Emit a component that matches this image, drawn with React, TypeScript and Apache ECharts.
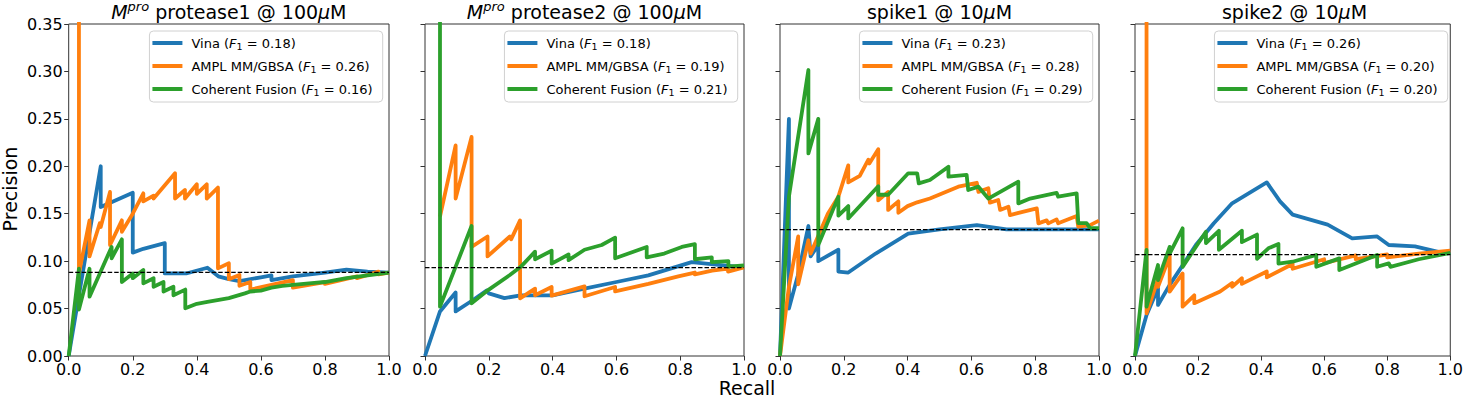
import React, { useEffect, useRef } from 'react';
import * as echarts from 'echarts';

type Pt = [number, number];

// ---------- data ----------
const panelTitles = [
  '{it|M}{sup|pro} protease1 @ 100{it|μ}M',
  '{it|M}{sup|pro} protease2 @ 100{it|μ}M',
  'spike1 @ 10{it|μ}M',
  'spike2 @ 10{it|μ}M',
];
const methods = ['Vina', 'AMPL MM/GBSA', 'Coherent Fusion'];
const methodColors = ['#1f77b4', '#ff7f0e', '#2ca02c'];
const f1Vina = ['0.18', '0.18', '0.23', '0.26'];
const f1Ampl = ['0.26', '0.19', '0.28', '0.20'];
const f1Coherent = ['0.16', '0.21', '0.29', '0.20'];
const baselinePrecision = [0.0882, 0.0931, 0.1332, 0.1068];

const xTicks = [0, 0.2, 0.4, 0.6, 0.8, 1.0];
const yTicks = [0, 0.05, 0.1, 0.15, 0.2, 0.25, 0.3, 0.35];

// panel 1: Mpro protease1 @ 100uM  [recall, precision]
const vina1: Pt[] = [[0, 0], [0.1, 0.2], [0.1, 0.157], [0.2, 0.172], [0.2, 0.109], [0.233, 0.113], [0.3, 0.119], [0.3, 0.087], [0.367, 0.087], [0.433, 0.093], [0.467, 0.084], [0.5, 0.081], [0.533, 0.079], [0.6, 0.083], [0.633, 0.085], [0.633, 0.08], [0.7, 0.084], [0.8, 0.088], [0.867, 0.091], [0.933, 0.089], [1.0, 0.088]];
const ampl1: Pt[] = [[0.032, 1.0], [0.032, 0.087], [0.065, 0.143], [0.065, 0.105], [0.097, 0.14], [0.1, 0.136], [0.129, 0.173], [0.129, 0.117], [0.166, 0.143], [0.166, 0.131], [0.2, 0.15], [0.233, 0.1715], [0.233, 0.163], [0.265, 0.169], [0.265, 0.166], [0.332, 0.1926], [0.332, 0.166], [0.363, 0.175], [0.363, 0.166], [0.4, 0.181], [0.4, 0.171], [0.431, 0.181], [0.431, 0.166], [0.466, 0.1775], [0.466, 0.0924], [0.5, 0.0977], [0.5, 0.081], [0.533, 0.0855], [0.533, 0.074], [0.567, 0.078], [0.567, 0.07], [0.7, 0.08], [0.7, 0.072], [0.8, 0.078], [0.8, 0.076], [0.9, 0.084], [0.9, 0.082], [0.967, 0.089], [0.967, 0.086], [1.0, 0.088]];
const coherent1: Pt[] = [[0, 0], [0.032, 0.092], [0.032, 0.049], [0.065, 0.092], [0.065, 0.0625], [0.134, 0.115], [0.134, 0.103], [0.166, 0.123], [0.166, 0.078], [0.2, 0.087], [0.2, 0.082], [0.233, 0.0907], [0.233, 0.0766], [0.265, 0.082], [0.265, 0.073], [0.296, 0.078], [0.296, 0.068], [0.327, 0.073], [0.327, 0.064], [0.364, 0.07], [0.364, 0.0503], [0.4, 0.055], [0.433, 0.057], [0.5, 0.061], [0.55, 0.066], [0.567, 0.068], [0.6, 0.069], [0.633, 0.072], [0.667, 0.074], [0.7, 0.075], [0.767, 0.077], [0.8, 0.078], [0.867, 0.082], [0.933, 0.085], [1.0, 0.088]];

// panel 2: Mpro protease2 @ 100uM
const vina2: Pt[] = [[0, 0], [0.047, 0.047], [0.096, 0.067], [0.096, 0.047], [0.146, 0.058], [0.193, 0.069], [0.2, 0.066], [0.249, 0.061], [0.3, 0.064], [0.4, 0.064], [0.5, 0.071], [0.6, 0.078], [0.7, 0.085], [0.836, 0.099], [0.92, 0.096], [1.0, 0.0934]];
const ampl2: Pt[] = [[0.047, 0.147], [0.096, 0.222], [0.096, 0.166], [0.146, 0.231], [0.146, 0.115], [0.196, 0.126], [0.196, 0.105], [0.266, 0.126], [0.27, 0.123], [0.298, 0.143], [0.298, 0.0608], [0.345, 0.071], [0.345, 0.064], [0.397, 0.0727], [0.397, 0.0636], [0.5, 0.0734], [0.5, 0.063], [0.596, 0.0727], [0.596, 0.0681], [0.7, 0.076], [0.794, 0.084], [0.846, 0.088], [0.846, 0.086], [0.9, 0.09], [0.95, 0.092], [0.95, 0.089], [1.0, 0.0934]];
const coherent2: Pt[] = [[0.047, 1.0], [0.047, 0.052], [0.146, 0.137], [0.146, 0.0555], [0.2, 0.07], [0.266, 0.0854], [0.3, 0.094], [0.345, 0.11], [0.345, 0.102], [0.397, 0.111], [0.397, 0.0974], [0.45, 0.107], [0.45, 0.101], [0.5, 0.112], [0.554, 0.117], [0.596, 0.1248], [0.596, 0.103], [0.695, 0.115], [0.695, 0.104], [0.75, 0.108], [0.805, 0.115], [0.846, 0.118], [0.846, 0.102], [0.899, 0.104], [0.899, 0.099], [0.951, 0.1], [0.951, 0.0942], [1.0, 0.0955]];

// panel 3: spike1 @ 10uM
const vina3: Pt[] = [[0, 0], [0.028, 0.25], [0.028, 0.05], [0.056, 0.085], [0.089, 0.137], [0.096, 0.105], [0.12, 0.117], [0.12, 0.1], [0.183, 0.112], [0.183, 0.089], [0.214, 0.088], [0.3, 0.108], [0.402, 0.129], [0.5, 0.1334], [0.617, 0.138], [0.71, 0.1334], [1.0, 0.1334]];
const ampl3: Pt[] = [[0, 0], [0.028, 0.073], [0.057, 0.126], [0.057, 0.0756], [0.089, 0.122], [0.096, 0.108], [0.15, 0.15], [0.183, 0.168], [0.214, 0.201], [0.214, 0.183], [0.25, 0.19], [0.277, 0.207], [0.28, 0.203], [0.308, 0.218], [0.308, 0.164], [0.339, 0.173], [0.339, 0.154], [0.371, 0.163], [0.371, 0.151], [0.4, 0.158], [0.43, 0.162], [0.47, 0.166], [0.559, 0.1785], [0.617, 0.1826], [0.622, 0.173], [0.653, 0.1768], [0.658, 0.1616], [0.684, 0.1645], [0.69, 0.154], [0.716, 0.1574], [0.721, 0.1486], [0.805, 0.1556], [0.81, 0.1398], [0.836, 0.143], [0.841, 0.1398], [0.867, 0.144], [0.872, 0.14], [0.93, 0.1476], [0.935, 0.1364], [0.972, 0.138], [1.0, 0.1427]];
const coherent3: Pt[] = [[0, 0], [0.028, 0.168], [0.089, 0.3015], [0.089, 0.2136], [0.12, 0.25], [0.12, 0.117], [0.183, 0.168], [0.183, 0.148], [0.214, 0.158], [0.214, 0.145], [0.308, 0.179], [0.308, 0.17], [0.339, 0.17], [0.402, 0.1926], [0.43, 0.1926], [0.435, 0.182], [0.47, 0.1855], [0.528, 0.1996], [0.528, 0.189], [0.585, 0.191], [0.59, 0.175], [0.622, 0.1785], [0.653, 0.166], [0.747, 0.1838], [0.747, 0.1609], [0.784, 0.166], [0.867, 0.172], [0.872, 0.168], [0.93, 0.1714], [0.935, 0.14], [0.961, 0.14], [0.972, 0.1347], [1.0, 0.1347]];

// panel 4: spike2 @ 10uM
const vina4: Pt[] = [[0, 0], [0.0366, 0.0432], [0.073, 0.0713], [0.073, 0.0538], [0.11, 0.075], [0.15, 0.095], [0.193, 0.117], [0.25, 0.14], [0.308, 0.161], [0.418, 0.183], [0.46, 0.163], [0.5, 0.149], [0.611, 0.1385], [0.689, 0.124], [0.768, 0.126], [0.805, 0.117], [0.888, 0.1155], [0.972, 0.109], [1.0, 0.109]];
const ampl4: Pt[] = [[0.0366, 1.0], [0.0366, 0.045], [0.073, 0.081], [0.073, 0.073], [0.11, 0.105], [0.11, 0.0678], [0.151, 0.087], [0.151, 0.052], [0.188, 0.064], [0.188, 0.0557], [0.27, 0.068], [0.308, 0.077], [0.308, 0.073], [0.339, 0.082], [0.339, 0.076], [0.418, 0.089], [0.418, 0.083], [0.5, 0.097], [0.5, 0.092], [0.6, 0.102], [0.6, 0.098], [0.7, 0.106], [0.7, 0.102], [0.8, 0.107], [0.8, 0.104], [0.9, 0.108], [1.0, 0.111]];
const coherent4: Pt[] = [[0, 0], [0.0366, 0.1118], [0.0366, 0.052], [0.073, 0.0959], [0.073, 0.08], [0.11, 0.115], [0.11, 0.108], [0.151, 0.1346], [0.151, 0.094], [0.225, 0.131], [0.225, 0.119], [0.266, 0.132], [0.266, 0.112], [0.339, 0.132], [0.339, 0.12], [0.387, 0.128], [0.387, 0.1025], [0.423, 0.1135], [0.455, 0.118], [0.455, 0.0974], [0.5, 0.0994], [0.575, 0.1065], [0.575, 0.0941], [0.648, 0.1029], [0.648, 0.0906], [0.768, 0.1065], [0.768, 0.0941], [0.805, 0.0977], [0.81, 0.094], [0.9, 0.102], [1.0, 0.1086]];

const vinaCurves = [vina1, vina2, vina3, vina4];
const amplCurves = [ampl1, ampl2, ampl3, ampl4];
const coherentCurves = [coherent1, coherent2, coherent3, coherent4];

// ---------- layout ----------
const gridLefts = [68.7, 425, 780, 1135];
const gridWidths = [320.3, 319, 319, 319];
const gridTop = 24;
const gridHeight = 332;
const FONT = 'DejaVu Sans';

export default function App() {
  const ref = useRef<HTMLDivElement>(null);

  useEffect(() => {
    if (!ref.current) return;
    const chart = echarts.init(ref.current, undefined, { renderer: 'svg' });

    const curveSets = [vinaCurves, amplCurves, coherentCurves];
    const f1Sets = [f1Vina, f1Ampl, f1Coherent];

    const series: any[] = [];
    for (let p = 0; p < 4; p++) {
      for (let m = 0; m < 3; m++) {
        series.push({
          type: 'line',
          name: `${methods[m]}|${p}`,
          xAxisIndex: p,
          yAxisIndex: p,
          data: curveSets[m][p],
          showSymbol: false,
          symbol: 'none',
          color: methodColors[m],
          lineStyle: { color: methodColors[m], width: 3.8, join: 'round', cap: 'butt' },
          clip: true,
          z: 2 + m,
        });
      }
      series.push({
        type: 'line',
        name: `baseline|${p}`,
        xAxisIndex: p,
        yAxisIndex: p,
        data: [[0, baselinePrecision[p]], [1, baselinePrecision[p]]],
        showSymbol: false,
        symbol: 'none',
        color: '#000',
        lineStyle: { color: '#000', width: 1.3, type: [4.5, 2] },
        z: 6,
      });
    }

    const legendRightEdges = gridLefts.map((l, i) => l + gridWidths[i] - 6.3);

    const option: any = {
      animation: false,
      backgroundColor: '#ffffff',
      textStyle: { fontFamily: FONT },
      title: panelTitles.map((t, i) => ({
        text: t,
        left: gridLefts[i] + gridWidths[i] / 2,
        top: 0,
        textAlign: 'center',
        padding: 0,
        textStyle: {
          fontFamily: FONT,
          fontSize: 19,
          fontWeight: 'normal',
          color: '#000',
          lineHeight: 24,
          rich: {
            it: { fontFamily: FONT, fontSize: 19, fontStyle: 'italic', color: '#000', lineHeight: 24 },
            sup: { fontFamily: FONT, fontSize: 13, fontStyle: 'italic', color: '#000', padding: [0, 0, 12, 0] },
          },
        },
      })),
      grid: gridLefts.map((l, i) => ({
        left: l,
        top: gridTop,
        width: gridWidths[i],
        height: gridHeight,
        show: true,
        borderColor: '#333',
        borderWidth: 1,
        backgroundColor: 'transparent',
        containLabel: false,
      })),
      xAxis: gridLefts.map((_, i) => ({
        type: 'value',
        gridIndex: i,
        min: xTicks[0],
        max: xTicks[xTicks.length - 1],
        interval: 0.2,
        splitLine: { show: false },
        axisLine: { show: false },
        axisTick: { show: true, length: 4.5, lineStyle: { color: '#333', width: 1 } },
        axisLabel: {
          show: true,
          margin: 5,
          fontFamily: FONT,
          fontSize: 16,
          color: '#000',
          formatter: (v: number) => v.toFixed(1),
        },
      })),
      yAxis: gridLefts.map((_, i) => ({
        type: 'value',
        gridIndex: i,
        min: yTicks[0],
        max: yTicks[yTicks.length - 1],
        interval: 0.05,
        splitLine: { show: false },
        axisLine: { show: false },
        axisTick: { show: true, length: 4.5, lineStyle: { color: '#333', width: 1 } },
        axisLabel: {
          show: i === 0,
          margin: 6,
          fontFamily: FONT,
          fontSize: 16,
          color: '#000',
          formatter: (v: number) => v.toFixed(2),
        },
      })),
      legend: gridLefts.map((_, i) => ({
        data: methods.map((m) => `${m}|${i}`),
        orient: 'vertical',
        right: 1466 - legendRightEdges[i],
        top: 31,
        icon: 'rect',
        itemWidth: 30,
        itemHeight: 4,
        itemGap: 7,
        padding: [4, 10, 5, 3],
        backgroundColor: 'rgba(255,255,255,0.8)',
        borderColor: '#d0d0d0',
        borderWidth: 1,
        borderRadius: 4,
        selectedMode: false,
        formatter: (name: string) => {
          const [m, p] = name.split('|');
          const mi = methods.indexOf(m);
          const f1 = f1Sets[mi][Number(p)];
          return `${m} ({it|F}{sub|1} = ${f1})`;
        },
        textStyle: {
          fontFamily: FONT,
          fontSize: 13,
          color: '#000',
          lineHeight: 16,
          padding: [0, 0, 0, 4],
          rich: {
            it: { fontFamily: FONT, fontSize: 13, fontStyle: 'italic', color: '#000', lineHeight: 16 },
            sub: { fontFamily: FONT, fontSize: 9.5, color: '#000', padding: [6, 0, 0, 0] },
          },
        },
      })),
      graphic: [
        {
          type: 'text',
          x: 747,
          y: 388,
          style: {
            text: 'Recall',
            fontFamily: FONT,
            fontSize: 19,
            fill: '#000',
            textAlign: 'center',
            textVerticalAlign: 'middle',
          },
        },
        {
          type: 'text',
          x: 10,
          y: 189,
          rotation: Math.PI / 2,
          style: {
            text: 'Precision',
            fontFamily: FONT,
            fontSize: 19,
            fill: '#000',
            textAlign: 'center',
            textVerticalAlign: 'middle',
          },
        },
      ],
      series,
    };

    chart.setOption(option);
    return () => chart.dispose();
  }, []);

  return (
    <div
      ref={ref}
      style={{ position: 'fixed', left: 0, top: 0, width: 1466, height: 398, background: '#fff' }}
    />
  );
}
